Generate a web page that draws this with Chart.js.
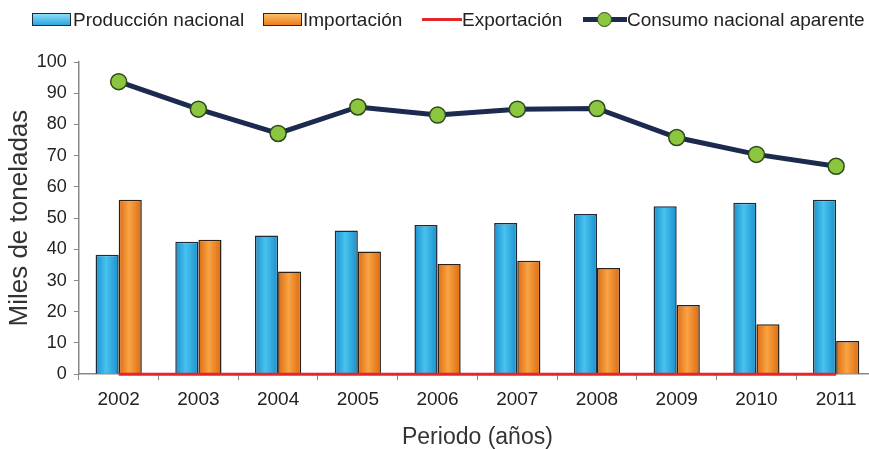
<!DOCTYPE html>
<html>
<head>
<meta charset="utf-8">
<script src="https://cdn.jsdelivr.net/npm/chart.js@4.4.1/dist/chart.umd.min.js"></script>
<style>
  html, body { margin: 0; padding: 0; background: #fff; overflow: hidden; }
  #wrap { position: relative; width: 886px; height: 449px; overflow: hidden; }
  #chart { position: absolute; left: 0; top: 0; }
  .legend { position: absolute; top: 8px; left: 0; height: 24px; font-family: "Liberation Sans", Arial, sans-serif; font-size: 19px; color: #222; }
  .item { position: absolute; top: 0; white-space: nowrap; line-height: 24px; }
  .sym { position: absolute; }
  .box { top: 5px; height: 11px; border: 1.5px solid #1d2a3a; }
</style>
</head>
<body>
<div id="wrap">
  <canvas id="chart" width="880" height="449"></canvas>
  <div class="legend">
    <div class="sym box" style="left:32px; width:37px; background:linear-gradient(#8fdcf8,#2aa6df);"></div>
    <div class="item" style="left:73px;">Producción nacional</div>
    <div class="sym box" style="left:263px; width:37px; background:linear-gradient(#fbbf6a,#ec7c1c);"></div>
    <div class="item" style="left:303px;">Importación</div>
    <div class="sym" style="left:422px; top:10px; width:40px; height:3px; background:#e3262a;"></div>
    <div class="item" style="left:462px;">Exportación</div>
    <div class="sym" style="left:583px; top:9px; width:44px; height:5px; background:#1b2a4e;"></div>
    <div class="sym" style="left:597px; top:4px; width:13px; height:13px; border-radius:50%; background:#8cc63f; border:1.5px solid #2a4a1a;"></div>
    <div class="item" style="left:627px;">Consumo nacional aparente</div>
  </div>
</div>
<script>
var years = ['2002','2003','2004','2005','2006','2007','2008','2009','2010','2011'];
var produccion = [38.3, 42.4, 44.4, 46.0, 47.8, 48.4, 51.3, 53.8, 54.9, 55.9];
var importacion = [55.9, 43.1, 32.9, 39.3, 35.3, 36.3, 34.0, 22.2, 16.0, 10.6];
var exportacion = [0, 0, 0, 0, 0, 0, 0, 0, 0, 0];
var consumo = [93.7, 84.9, 77.1, 85.6, 83.0, 84.9, 85.1, 75.8, 70.4, 66.6];
var yTicks = [0, 10, 20, 30, 40, 50, 60, 70, 80, 90, 100];

var catPct = 0.58;

// bevel-like horizontal gradient for each bar (side: -1 left bar, 1 right bar)
function barFill(side, edge, mid, flat) {
    return function (c) {
        var chart = c.chart;
        var xs = chart.scales && chart.scales.x;
        if (!chart.chartArea || !xs || c.dataIndex === undefined) return flat;
        var center = xs.getPixelForValue(c.dataIndex);
        var w = xs.width / years.length * catPct / 2;
        var x0 = side < 0 ? center - w : center;
        var g = chart.ctx.createLinearGradient(x0, 0, x0 + w, 0);
        g.addColorStop(0, edge);
        g.addColorStop(0.45, mid);
        g.addColorStop(1, edge);
        return g;
    };
}

var ctx = document.getElementById('chart');

var chart = new Chart(ctx, {
    type: 'bar',
    data: {
        labels: years,
        datasets: [
            {
                type: 'line',
                label: 'Consumo nacional aparente',
                data: consumo,
                borderColor: '#1b2a4e',
                borderWidth: 5,
                backgroundColor: '#8cc63f',
                pointBackgroundColor: '#8cc63f',
                pointBorderColor: '#2c4a1c',
                pointBorderWidth: 1.5,
                pointRadius: 8,
                tension: 0,
                order: 0
            },
            {
                type: 'line',
                label: 'Exportación',
                data: exportacion,
                borderColor: '#e3262a',
                borderWidth: 3,
                pointRadius: 0,
                clip: false,
                order: 1
            },
            {
                label: 'Producción nacional',
                data: produccion,
                backgroundColor: barFill(-1, '#1a90cc', '#48c2f0', '#2aa8e0'),
                borderColor: '#1d2a3a',
                borderWidth: 1.5,
                categoryPercentage: catPct,
                barPercentage: 1.0,
                order: 2
            },
            {
                label: 'Importación',
                data: importacion,
                backgroundColor: barFill(1, '#dc6a10', '#f9a444', '#ee7f1f'),
                borderColor: '#2a2218',
                borderWidth: 1.5,
                categoryPercentage: catPct,
                barPercentage: 1.0,
                order: 2
            }
        ]
    },
    options: {
        responsive: false,
        animation: false,
        layout: { autoPadding: false, padding: { top: 62, right: 4, left: 9, bottom: 0 } },
        plugins: {
            legend: { display: false },
            tooltip: { enabled: false }
        },
        scales: {
            x: {
                grid: { display: true, drawOnChartArea: false, offset: true, color: '#888', tickLength: 6 },
                border: { color: '#888', width: 1.5 },
                ticks: { color: '#222', font: { family: 'Liberation Sans, Arial', size: 19 }, padding: 8 },
                title: { display: true, text: 'Periodo (años)', color: '#333', font: { family: 'Liberation Sans, Arial', size: 23, lineHeight: 1 }, padding: { top: 7, bottom: 0 } }
            },
            y: {
                min: 0,
                max: 100,
                afterBuildTicks: function (axis) {
                    axis.ticks = yTicks.map(function (v) { return { value: v }; });
                },
                grid: { display: true, drawOnChartArea: false, color: '#888', tickLength: 5 },
                border: { color: '#888', width: 1.5 },
                ticks: { color: '#222', font: { family: 'Liberation Sans, Arial', size: 18 }, padding: 7 },
                title: { display: true, text: 'Miles de toneladas', color: '#333', font: { family: 'Liberation Sans, Arial', size: 26, lineHeight: 0.8 }, padding: { top: 0, bottom: 0 } }
            }
        }
    }
});
</script>
</body>
</html>
